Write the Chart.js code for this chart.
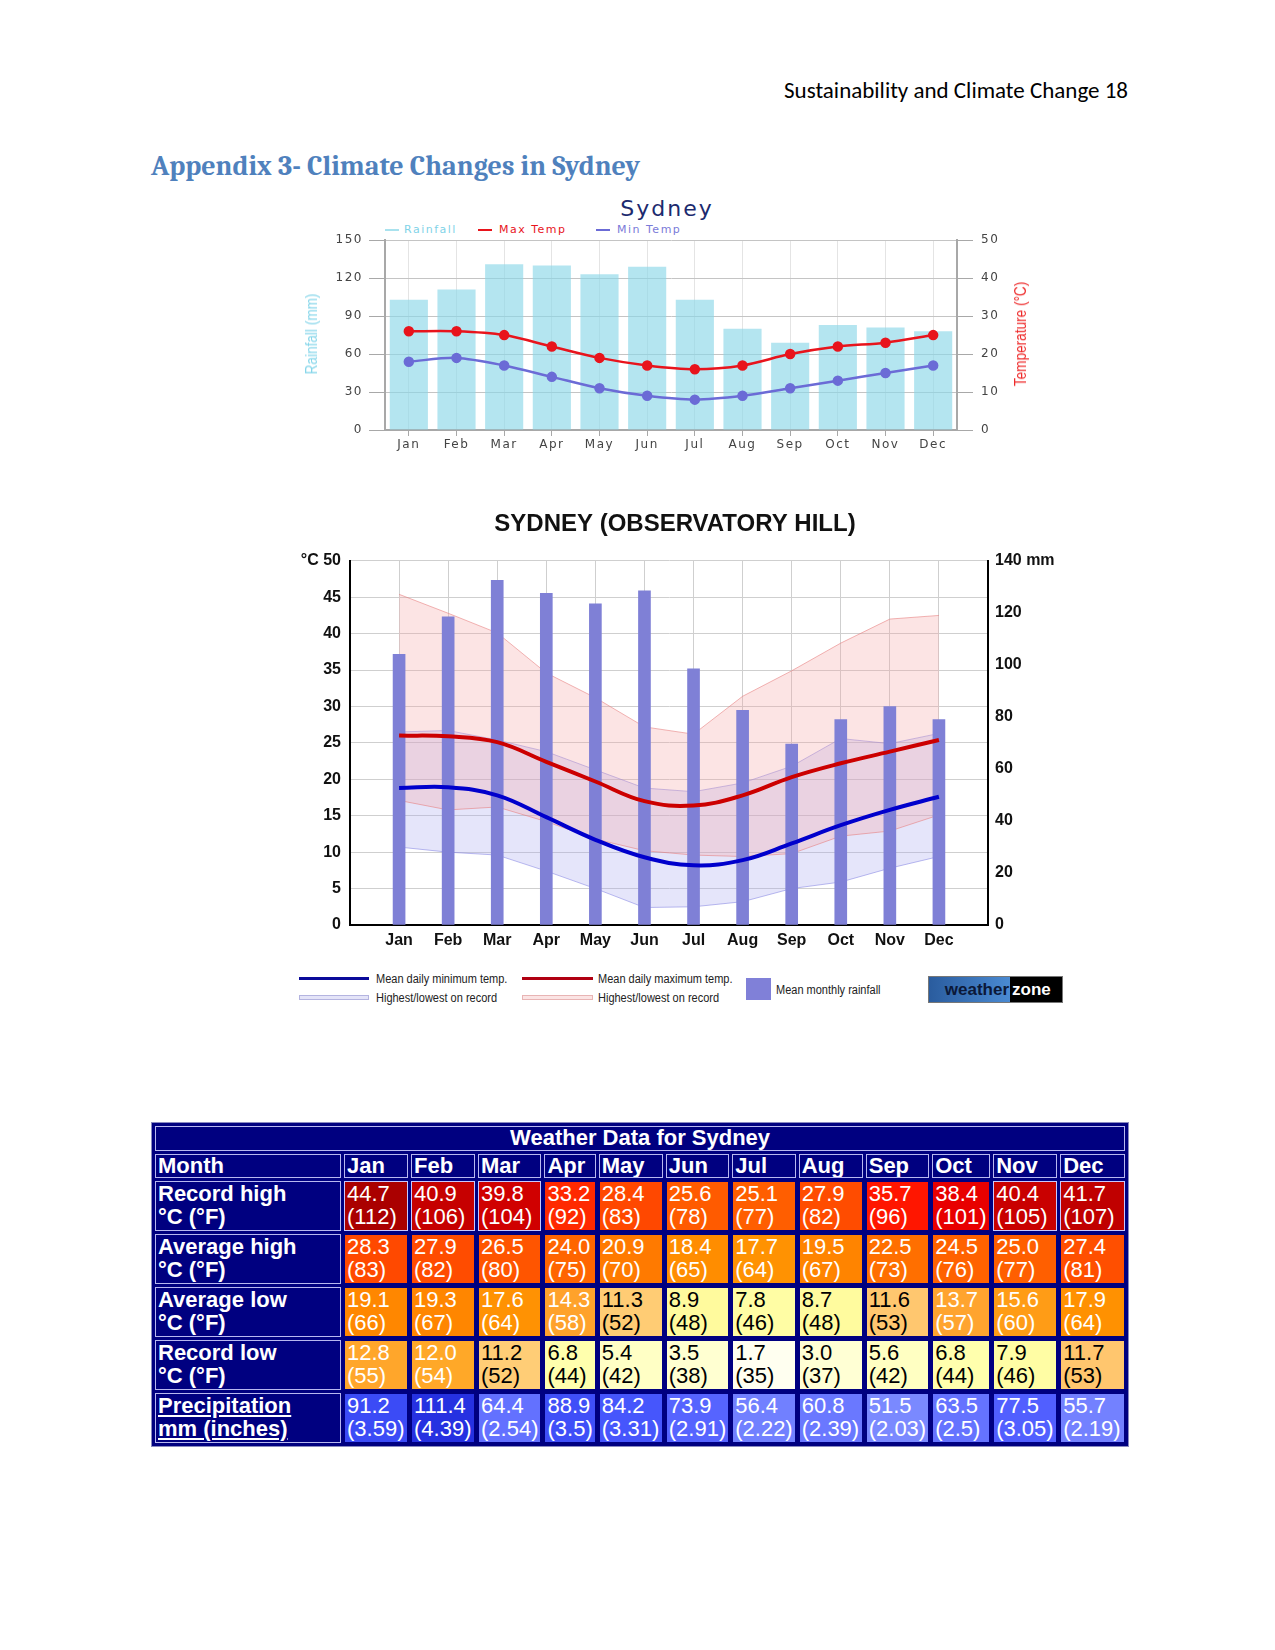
<!DOCTYPE html>
<html>
<head>
<meta charset="utf-8">
<script src="https://cdn.jsdelivr.net/npm/chart.js@4.4.0/dist/chart.umd.min.js"></script>
<style>
body { margin: 0; background: #fff; }
#page { position: relative; width: 1275px; height: 1650px; overflow: hidden; font-family: 'Liberation Sans', Arial, sans-serif; }
.abs { position: absolute; }
#header { right: 147px; top: 76px; font: 23px/28px Carlito, Calibri, Lato, sans-serif; color: #000; white-space: nowrap; }
#heading { left: 151px; top: 149px; font: bold 28px/34px Caladea, Cambria, 'Liberation Serif', serif; color: #4f81bd; white-space: nowrap; }
#t1 { left: 467px; width: 400px; top: 195px; text-align: center; font: 22px/28px 'DejaVu Sans', Verdana, sans-serif; letter-spacing: 2px; color: #1c2a6e; }
.lg1 { top: 223px; height: 14px; font: 11px/14px 'DejaVu Sans', Verdana, sans-serif; letter-spacing: 1.5px; white-space: nowrap; }
.sym1 { top: 229px; height: 2px; width: 14px; }
.vt { width: 0; height: 0; }
.vt span { position: absolute; transform: translate(-50%, -50%) rotate(-90deg) scaleX(0.85); white-space: nowrap; font: 16px 'Liberation Sans Narrow', 'Liberation Sans', sans-serif; }
.lg2 { font: 12.5px/16px 'Liberation Sans Narrow', 'Liberation Sans', sans-serif; color: #222; white-space: nowrap; transform: scaleX(0.88); transform-origin: 0 50%; }
#logo { left: 928px; top: 976px; width: 135px; height: 27px; border: 1px solid #777; box-sizing: border-box; display: flex; font: bold 17px/25px 'Liberation Sans', Arial, sans-serif; }
#logo .a { width: 80px; background: linear-gradient(90deg, #2a5c9e, #4a8ad2); color: #0b1838; text-align: right; padding-right: 1px; }
#logo .b { flex: 1; background: #000; color: #fff; padding-left: 2px; }
#wtable { left: 151px; top: 1122px; border-collapse: separate; border-spacing: 3px; background: #000080; border: 1px solid #8a8ac0; table-layout: fixed; font: 22px/22.5px 'Liberation Sans', Arial, sans-serif; }
#wtable td, #wtable th { padding: 1px 2px 2px 2px; border: 1px solid #000080; text-align: left; vertical-align: top; overflow: hidden; white-space: nowrap; }
#wtable th { color: #fff; font-weight: bold; border-color: #b8b8f0; }
#wtable th.title { text-align: center; }
#wtable tr.hd th { padding-top: 0; padding-bottom: 0; }
</style>
</head>
<body>
<div id="page">
  <div id="header" class="abs">Sustainability and Climate Change 18</div>
  <div id="heading" class="abs">Appendix 3- Climate Changes in Sydney</div>

  <div id="t1" class="abs">Sydney</div>
  <div class="abs sym1" style="left:385px;background:#a9e2ee"></div>
  <div class="abs lg1" style="left:404px;color:#7fd3e8">Rainfall</div>
  <div class="abs sym1" style="left:478px;background:#e8141c"></div>
  <div class="abs lg1" style="left:499px;color:#e8141c">Max Temp</div>
  <div class="abs sym1" style="left:596px;background:#6b6bd6"></div>
  <div class="abs lg1" style="left:617px;color:#7a7ad8">Min Temp</div>
  <canvas id="c1" class="abs" width="750" height="235" style="left:290px;top:225px"></canvas>
  <div class="abs vt" style="left:312px;top:334px"><span style="color:#86d6ea">Rainfall (mm)</span></div>
  <div class="abs vt" style="left:1021px;top:334px"><span style="color:#ee2a2a">Temperature (°C)</span></div>

  <canvas id="c2" class="abs" width="790" height="462" style="left:280px;top:500px"></canvas>

  <div class="abs" style="left:299px;top:977px;width:70px;height:3px;background:#0a0a9a"></div>
  <div class="abs lg2" style="left:376px;top:971px">Mean daily minimum temp.</div>
  <div class="abs" style="left:299px;top:995px;width:70px;height:5px;background:#e4e4f8;border:1px solid #b4b4e0;box-sizing:border-box"></div>
  <div class="abs lg2" style="left:376px;top:990px">Highest/lowest on record</div>
  <div class="abs" style="left:522px;top:977px;width:71px;height:3px;background:#b00012"></div>
  <div class="abs lg2" style="left:598px;top:971px">Mean daily maximum temp.</div>
  <div class="abs" style="left:522px;top:995px;width:71px;height:5px;background:#fbe4e4;border:1px solid #e8b4b4;box-sizing:border-box"></div>
  <div class="abs lg2" style="left:598px;top:990px">Highest/lowest on record</div>
  <div class="abs" style="left:746px;top:978px;width:25px;height:22px;background:#8080d8"></div>
  <div class="abs lg2" style="left:776px;top:982px">Mean monthly rainfall</div>
  <div id="logo" class="abs"><div class="a">weather</div><div class="b">zone</div></div>

  <table id="wtable" class="abs"></table>
</div>

<script>
// top chart (Sydney averages)
var months = ['Jan', 'Feb', 'Mar', 'Apr', 'May', 'Jun', 'Jul', 'Aug', 'Sep', 'Oct', 'Nov', 'Dec'];
var rainfall = [103, 111, 131, 130, 123, 129, 103, 80, 69, 83, 81, 78];
var maxTemp = [26, 26, 25, 22, 19, 17, 16, 17, 20, 22, 23, 25];
var minTemp = [18, 19, 17, 14, 11, 9, 8, 9, 11, 13, 15, 17];

// observatory hill chart
var obsRain = [104, 118.5, 132.5, 127.5, 123.5, 128.5, 98.5, 82.5, 69.5, 79, 84, 79];
var obsMax = [26.0, 25.9, 25.1, 22.4, 19.7, 17.0, 16.4, 17.8, 20.3, 22.2, 23.8, 25.4];
var obsMin = [18.8, 18.9, 17.8, 14.8, 11.7, 9.3, 8.2, 8.9, 11.2, 13.7, 15.8, 17.6];
var maxHigh = [45.4, 42.8, 40.1, 34.6, 31.2, 27.2, 26.2, 31.4, 34.9, 38.7, 42.0, 42.5];
var maxLow = [17.1, 15.8, 16.2, 14.2, 11.8, 10.2, 9.6, 9.4, 9.8, 12.2, 12.9, 15.1];
var minHigh = [26.5, 26.7, 25.4, 23.8, 21.3, 18.8, 18.3, 19.5, 21.8, 25.6, 24.9, 26.3];
var minLow = [10.7, 10.0, 9.6, 7.4, 5.0, 2.4, 2.5, 3.2, 5.0, 5.9, 7.8, 9.4];

// weather table
var recordHigh = [44.7, 40.9, 39.8, 33.2, 28.4, 25.6, 25.1, 27.9, 35.7, 38.4, 40.4, 41.7];
var recordHighF = [112, 106, 104, 92, 83, 78, 77, 82, 96, 101, 105, 107];
var avgHigh = [28.3, 27.9, 26.5, 24.0, 20.9, 18.4, 17.7, 19.5, 22.5, 24.5, 25.0, 27.4];
var avgHighF = [83, 82, 80, 75, 70, 65, 64, 67, 73, 76, 77, 81];
var avgLow = [19.1, 19.3, 17.6, 14.3, 11.3, 8.9, 7.8, 8.7, 11.6, 13.7, 15.6, 17.9];
var avgLowF = [66, 67, 64, 58, 52, 48, 46, 48, 53, 57, 60, 64];
var recordLow = [12.8, 12.0, 11.2, 6.8, 5.4, 3.5, 1.7, 3.0, 5.6, 6.8, 7.9, 11.7];
var recordLowF = [55, 54, 52, 44, 42, 38, 35, 37, 42, 44, 46, 53];
var precip = [91.2, 111.4, 64.4, 88.9, 84.2, 73.9, 56.4, 60.8, 51.5, 63.5, 77.5, 55.7];
var precipIn = [3.59, 4.39, 2.54, 3.5, 3.31, 2.91, 2.22, 2.39, 2.03, 2.5, 3.05, 2.19];

var letterSpace = {
	id: 'letterSpace',
	beforeDraw: function (chart, args, opts) {
		chart.ctx.letterSpacing = opts.value || '0px';
	}
};

var tickFont1 = { family: 'DejaVu Sans', size: 12 };

new Chart(document.getElementById('c1'), {
	type: 'bar',
	data: {
		labels: months,
		datasets: [
			{
				type: 'line',
				label: 'Max Temp',
				data: maxTemp,
				yAxisID: 'y2',
				borderColor: '#e8141c',
				backgroundColor: '#e8141c',
				borderWidth: 2.5,
				pointRadius: 4,
				tension: 0.3,
				order: 1
			},
			{
				type: 'line',
				label: 'Min Temp',
				data: minTemp,
				yAxisID: 'y2',
				borderColor: '#6b6bd6',
				backgroundColor: '#6b6bd6',
				borderWidth: 2.5,
				pointRadius: 4,
				tension: 0.3,
				order: 2
			},
			{
				label: 'Rainfall',
				data: rainfall,
				yAxisID: 'y',
				backgroundColor: 'rgba(140, 215, 232, 0.65)',
				barPercentage: 0.8,
				categoryPercentage: 1,
				order: 3
			}
		]
	},
	options: {
		responsive: false,
		animation: false,
		layout: { padding: { top: 13 } },
		plugins: {
			legend: { display: false },
			tooltip: { enabled: false },
			letterSpace: { value: '1.5px' }
		},
		scales: {
			x: {
				grid: { offset: false, color: '#e4e4e4', tickLength: 6, tickColor: '#a8a8a8' },
				border: { color: '#a8a8a8', width: 2 },
				ticks: { font: tickFont1, color: '#444', padding: 2 },
				afterFit: function (s) { s.height = 30; }
			},
			y: {
				position: 'left',
				min: 0,
				max: 150,
				ticks: { stepSize: 30, font: tickFont1, color: '#444', padding: 6 },
				grid: { color: '#c4c4c4', tickLength: 16, tickColor: '#a8a8a8' },
				border: { color: '#a8a8a8', width: 2 },
				afterFit: function (s) { s.width = 95; }
			},
			y2: {
				position: 'right',
				min: 0,
				max: 50,
				ticks: { stepSize: 10, font: tickFont1, color: '#444', padding: 8 },
				grid: { drawOnChartArea: false, tickLength: 16, tickColor: '#a8a8a8' },
				border: { color: '#a8a8a8', width: 2 },
				afterFit: function (s) { s.width = 83; }
			}
		}
	},
	plugins: [letterSpace]
});

// second chart: pad with empty slots so Jan/Dec sit one step in from the axes
var pad = function (a) { return [null].concat(a, [null]); };
var tickFont2 = { family: 'Liberation Sans', size: 16, weight: 'bold' };

new Chart(document.getElementById('c2'), {
	type: 'bar',
	data: {
		labels: [''].concat(months, ['']),
		datasets: [
			{ type: 'line', data: pad(minLow), yAxisID: 'y', borderColor: 'rgba(130,130,225,0.55)', borderWidth: 1, pointRadius: 0, fill: false, order: 5 },
			{ type: 'line', data: pad(minHigh), yAxisID: 'y', borderColor: 'rgba(130,130,225,0.55)', borderWidth: 1, pointRadius: 0, fill: '-1', backgroundColor: 'rgba(170,170,240,0.3)', order: 5 },
			{ type: 'line', data: pad(maxLow), yAxisID: 'y', borderColor: 'rgba(230,120,120,0.55)', borderWidth: 1, pointRadius: 0, fill: false, order: 4 },
			{ type: 'line', data: pad(maxHigh), yAxisID: 'y', borderColor: 'rgba(230,120,120,0.55)', borderWidth: 1, pointRadius: 0, fill: '-1', backgroundColor: 'rgba(245,165,165,0.3)', order: 4 },
			{ data: pad(obsRain), yAxisID: 'y2', backgroundColor: '#7f80d6', barThickness: 12, order: 3 },
			{ type: 'line', data: pad(obsMax), yAxisID: 'y', borderColor: '#cc0000', borderWidth: 4, pointRadius: 0, tension: 0.4, order: 1 },
			{ type: 'line', data: pad(obsMin), yAxisID: 'y', borderColor: '#0000cc', borderWidth: 4, pointRadius: 0, tension: 0.4, order: 2 }
		]
	},
	options: {
		responsive: false,
		animation: false,
		plugins: {
			legend: { display: false },
			tooltip: { enabled: false },
			title: {
				display: true,
				text: 'SYDNEY (OBSERVATORY HILL)',
				color: '#111',
				font: { family: 'Liberation Sans', size: 24, weight: 'bold', lineHeight: 1.2 },
				padding: { top: 10, bottom: 22 }
			}
		},
		scales: {
			x: {
				offset: false,
				grid: { offset: false, color: '#cfcfcf', drawTicks: false },
				border: { color: '#000', width: 2 },
				ticks: { font: tickFont2, color: '#111', padding: 6, autoSkip: false, maxRotation: 0 },
				afterFit: function (s) { s.height = 37; }
			},
			y: {
				position: 'left',
				min: 0,
				max: 50,
				ticks: {
					stepSize: 5, font: tickFont2, color: '#111', padding: 9,
					callback: function (v) { return v === 50 ? '°C 50' : v; }
				},
				grid: { color: '#cfcfcf', drawTicks: false },
				border: { color: '#000', width: 2 },
				afterFit: function (s) { s.width = 70; }
			},
			y2: {
				position: 'right',
				min: 0,
				max: 140,
				ticks: {
					stepSize: 20, font: tickFont2, color: '#111', padding: 7,
					callback: function (v) { return v === 140 ? '140 mm' : v; }
				},
				grid: { drawOnChartArea: false, drawTicks: false },
				border: { color: '#000', width: 2 },
				afterFit: function (s) { s.width = 82; }
			}
		}
	}
});

// table colours
function mix(stops, v) {
	if (v <= stops[0][0]) return stops[0][1];
	for (var i = 1; i < stops.length; i++) {
		if (v <= stops[i][0]) {
			var a = stops[i - 1], b = stops[i];
			var t = (v - a[0]) / (b[0] - a[0]);
			var ca = a[1], cb = b[1];
			var out = [];
			for (var k = 0; k < 3; k++) {
				var x = parseInt(ca.substr(1 + k * 2, 2), 16), y = parseInt(cb.substr(1 + k * 2, 2), 16);
				out.push(Math.round(x + (y - x) * t));
			}
			return 'rgb(' + out.join(',') + ')';
		}
	}
	return stops[stops.length - 1][1];
}
var tempStops = [[1.5, '#fffff4'], [3, '#ffffd4'], [5.5, '#ffffc4'], [7, '#ffffaa'], [9, '#fffa9c'], [10.5, '#ffd882'], [11.8, '#ffc46c'],
	[12, '#ffa828'], [14, '#ffa330'], [16, '#ff9a10'], [18, '#ff9000'], [20, '#ff8000'], [24, '#ff6500'], [28, '#ff4b00'],
	[33, '#ff2a00'], [36, '#ff1400'], [38.4, '#e80000'], [40, '#cc0000'], [45, '#a80000']];
var rainStops = [[50, '#7d8cff'], [65, '#6270ff'], [80, '#4d5cff'], [92, '#3a4af5'], [112, '#2530e0']];

var rows = [
	['Record high', '°C (°F)', recordHigh, recordHighF, 'temp'],
	['Average high', '°C (°F)', avgHigh, avgHighF, 'temp'],
	['Average low', '°C (°F)', avgLow, avgLowF, 'temp'],
	['Record low', '°C (°F)', recordLow, recordLowF, 'temp'],
	['Precipitation', 'mm (inches)', precip, precipIn, 'rain']
];
var colW = [186, 64, 64, 63, 50, 64, 63, 63, 64, 63, 58, 64, 65];

var html = '<colgroup>';
colW.forEach(function (w) { html += '<col style="width:' + w + 'px">'; });
html += '</colgroup>';
html += '<tr class="hd"><th class="title" colspan="13">Weather Data for Sydney</th></tr>';
html += '<tr class="hd"><th>Month</th>';
months.forEach(function (m) { html += '<th>' + m + '</th>'; });
html += '</tr>';
rows.forEach(function (r) {
	var label = r[4] === 'rain' ? '<u>' + r[0] + '</u><br><u>' + r[1] + '</u>' : r[0] + '<br>' + r[1];
	html += '<tr><th>' + label + '</th>';
	for (var i = 0; i < 12; i++) {
		var v = r[2][i], bg, fg, bc = '#000080';
		if (r[4] === 'temp') {
			bg = mix(tempStops, v);
			fg = v >= 12 ? '#fff' : '#000';
			if (v >= 39) bc = '#c8c8ff';
		} else {
			bg = mix(rainStops, v);
			fg = '#fff';
		}
		html += '<td style="background:' + bg + ';color:' + fg + ';border-color:' + bc + '">' + v.toFixed(1) + '<br>(' + r[3][i] + ')</td>';
	}
	html += '</tr>';
});
document.getElementById('wtable').innerHTML = html;
</script>
</body>
</html>
